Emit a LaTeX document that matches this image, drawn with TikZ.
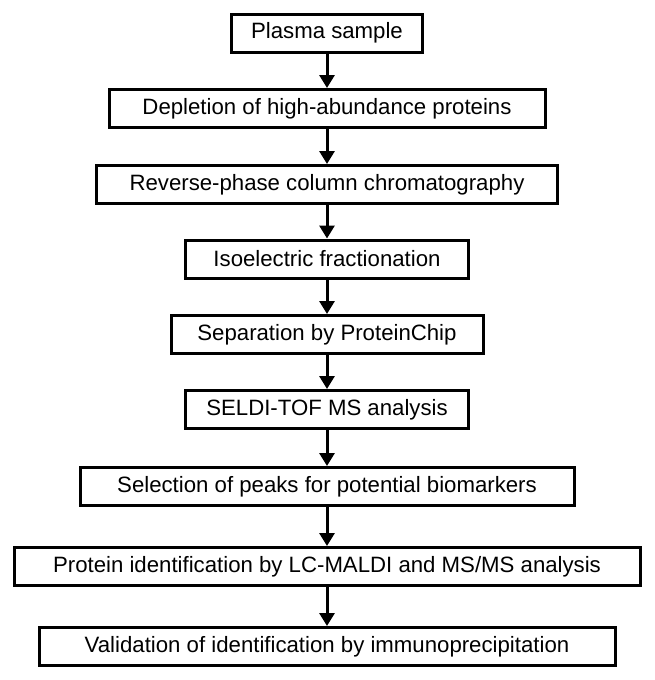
\documentclass[tikz,border=0pt]{standalone}
\usepackage{fontspec}
\setmainfont{Liberation Sans}
\usetikzlibrary{arrows.meta}
\begin{document}
\begin{tikzpicture}[x=1pt,y=-1pt,
  stepbox/.style={draw, line width=3pt, minimum height=38pt, inner sep=0pt,
    font=\fontsize{22.2}{26}\selectfont},
  flow/.style={line width=3pt, -{Triangle[length=13pt,width=15pt]}}]
\useasboundingbox (0,0) rectangle (655,680);
\node[stepbox, minimum width=191pt] (b1) at (327,33) {Plasma sample};
\node[stepbox, minimum width=436pt] (b2) at (327,108.5) {Depletion of high-abundance proteins};
\node[stepbox, minimum width=461pt] (b3) at (327,184.5) {Reverse-phase column chromatography};
\node[stepbox, minimum width=283pt] (b4) at (327,259) {Isoelectric fractionation};
\node[stepbox, minimum width=312pt] (b5) at (327,334.5) {Separation by ProteinChip};
\node[stepbox, minimum width=283pt] (b6) at (327,409.5) {SELDI-TOF MS analysis};
\node[stepbox, minimum width=494pt] (b7) at (327,486.5) {Selection of peaks for potential biomarkers};
\node[stepbox, minimum width=626pt] (b8) at (327,566.5) {Protein identification by LC-MALDI and MS/MS analysis};
\node[stepbox, minimum width=576pt] (b9) at (327,646.5) {Validation of identification by immunoprecipitation};
\foreach \a/\b in {b1/b2,b2/b3,b3/b4,b4/b5,b5/b6,b6/b7,b7/b8,b8/b9}
  \draw[flow] (\a.south) -- (\b.north);
\end{tikzpicture}
\end{document}
